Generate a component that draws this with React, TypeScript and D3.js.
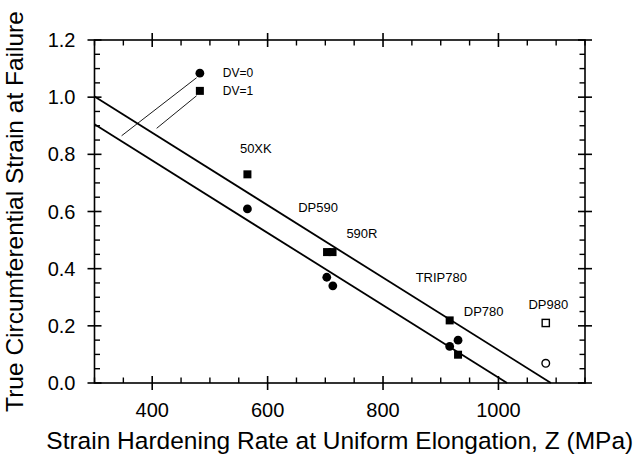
import React from "react";
import * as d3 from "d3";

// ---- data ----
const circlesDV0 = [
  { x: 565, y: 0.609 },
  { x: 702.5, y: 0.37 },
  { x: 713, y: 0.34 },
  { x: 915.5, y: 0.128 },
  { x: 930, y: 0.15 },
];
const squaresDV1 = [
  { x: 565, y: 0.73 },
  { x: 703, y: 0.458 },
  { x: 712.5, y: 0.458 },
  { x: 915.5, y: 0.219 },
  { x: 930, y: 0.099 },
];
const openCircles = [{ x: 1082, y: 0.069 }];
const openSquares = [{ x: 1082, y: 0.21 }];
const upperLine: [number, number][] = [
  [300, 1.002],
  [1091, 0],
];
const lowerLine: [number, number][] = [
  [300, 0.905],
  [1015, 0],
];
const steelLabels = [
  { text: "50XK", x: 552, y: 0.806 },
  { text: "DP590", x: 653, y: 0.599 },
  { text: "590R", x: 736.5, y: 0.506 },
  { text: "TRIP780", x: 856.5, y: 0.354 },
  { text: "DP780", x: 940, y: 0.235 },
  { text: "DP980", x: 1052, y: 0.258 },
];
const legendItems = [
  { label: "DV=0", shape: "circle", x: 482.6, y: 1.084, lx0: 347, ly0: 0.865, lx1: 476.9, ly1: 1.068 },
  { label: "DV=1", shape: "square", x: 482.6, y: 1.022, lx0: 407.7, ly0: 0.891, lx1: 476.9, ly1: 1.005 },
];
const xMajorTicks = [400, 600, 800, 1000];
const yMajorTicks = [0, 0.2, 0.4, 0.6, 0.8, 1.0, 1.2];
const xDomain: [number, number] = [300, 1150];
const yDomain: [number, number] = [0, 1.2];
const xTitle = "Strain Hardening Rate at Uniform Elongation, Z (MPa)";
const yTitle = "True Circumferential Strain at Failure";

const W = 634;
const H = 460;
const L = 94.5,
  R = 585,
  T = 40,
  B = 383;
const FONT = "'Liberation Sans', Arial, Helvetica, sans-serif";

export default function App() {
  const x = d3.scaleLinear().domain(xDomain).range([L, R]);
  const y = d3.scaleLinear().domain(yDomain).range([B, T]);
  const line = d3
    .line<[number, number]>()
    .x((d) => x(d[0]))
    .y((d) => y(d[1]));

  const xMinor = d3.range(xDomain[0], xDomain[1] + 1, 50).filter((v) => !xMajorTicks.includes(v));
  const yMinor = d3
    .range(0, 1.2001, 0.05)
    .map((v) => Math.round(v * 100) / 100)
    .filter((v) => !yMajorTicks.some((m) => Math.abs(m - v) < 1e-6));

  const sq = 8;
  const r = 4.4;
  const maj = 7;
  const mnr = 5.5;

  return (
    <svg width={W} height={H} style={{ position: "absolute", left: 0, top: 0, background: "#fff" }} fontFamily={FONT}>
      <rect x={0} y={0} width={W} height={H} fill="#fff" />
      {/* fit lines */}
      <path d={line(upperLine) || ""} stroke="#000" strokeWidth={1.8} fill="none" />
      <path d={line(lowerLine) || ""} stroke="#000" strokeWidth={1.8} fill="none" />

      {/* frame */}
      <rect x={L} y={T} width={R - L} height={B - T} fill="none" stroke="#000" strokeWidth={1.6} />

      {/* x ticks */}
      {xMajorTicks.map((v) => (
        <g key={"xm" + v}>
          <line x1={x(v)} x2={x(v)} y1={B - maj} y2={B + maj} stroke="#000" strokeWidth={1.6} />
          <line x1={x(v)} x2={x(v)} y1={T - maj} y2={T + maj} stroke="#000" strokeWidth={1.6} />
          <text x={x(v)} y={B + 34} textAnchor="middle" fontSize={20}>
            {v}
          </text>
        </g>
      ))}
      {xMinor.map((v) => (
        <g key={"xn" + v}>
          <line x1={x(v)} x2={x(v)} y1={B - mnr} y2={B} stroke="#000" strokeWidth={1.4} />
          <line x1={x(v)} x2={x(v)} y1={T} y2={T + mnr} stroke="#000" strokeWidth={1.4} />
        </g>
      ))}

      {/* y ticks */}
      {yMajorTicks.map((v) => (
        <g key={"ym" + v}>
          <line x1={L - maj} x2={L + maj} y1={y(v)} y2={y(v)} stroke="#000" strokeWidth={1.6} />
          <line x1={R - maj} x2={R + maj} y1={y(v)} y2={y(v)} stroke="#000" strokeWidth={1.6} />
          <text x={L - 19} y={y(v) + 7} textAnchor="end" fontSize={20}>
            {v.toFixed(1)}
          </text>
        </g>
      ))}
      {yMinor.map((v) => (
        <g key={"yn" + v}>
          <line x1={L} x2={L + mnr} y1={y(v)} y2={y(v)} stroke="#000" strokeWidth={1.4} />
          <line x1={R - mnr} x2={R} y1={y(v)} y2={y(v)} stroke="#000" strokeWidth={1.4} />
        </g>
      ))}

      {/* legend */}
      {legendItems.map((d) => (
        <g key={d.label}>
          <line x1={x(d.lx0)} y1={y(d.ly0)} x2={x(d.lx1)} y2={y(d.ly1)} stroke="#000" strokeWidth={0.9} />
          {d.shape === "circle" ? (
            <circle cx={x(d.x)} cy={y(d.y)} r={r} fill="#000" />
          ) : (
            <rect x={x(d.x) - sq / 2} y={y(d.y) - sq / 2} width={sq} height={sq} fill="#000" />
          )}
          <text x={x(d.x) + 23} y={y(d.y) + 4.3} fontSize={12}>
            {d.label}
          </text>
        </g>
      ))}

      {/* data */}
      {circlesDV0.map((d, i) => (
        <circle key={"c" + i} cx={x(d.x)} cy={y(d.y)} r={r} fill="#000" />
      ))}
      {squaresDV1.map((d, i) => (
        <rect key={"s" + i} x={x(d.x) - sq / 2} y={y(d.y) - sq / 2} width={sq} height={sq} fill="#000" />
      ))}
      {openCircles.map((d, i) => (
        <circle key={"oc" + i} cx={x(d.x)} cy={y(d.y)} r={3.8} fill="#fff" stroke="#000" strokeWidth={1.4} />
      ))}
      {openSquares.map((d, i) => (
        <rect
          key={"os" + i}
          x={x(d.x) - 3.6}
          y={y(d.y) - 3.6}
          width={7.2}
          height={7.2}
          fill="#fff"
          stroke="#000"
          strokeWidth={1.4}
        />
      ))}

      {/* steel labels */}
      {steelLabels.map((d) => (
        <text key={d.text} x={x(d.x)} y={y(d.y)} fontSize={13}>
          {d.text}
        </text>
      ))}

      {/* axis titles */}
      <text x={(L + R) / 2} y={449} textAnchor="middle" fontSize={24.5}>
        {xTitle}
      </text>
      <text
        transform={`translate(22.5, ${(T + B) / 2}) rotate(-90)`}
        textAnchor="middle"
        fontSize={24.5}
      >
        {yTitle}
      </text>
    </svg>
  );
}
